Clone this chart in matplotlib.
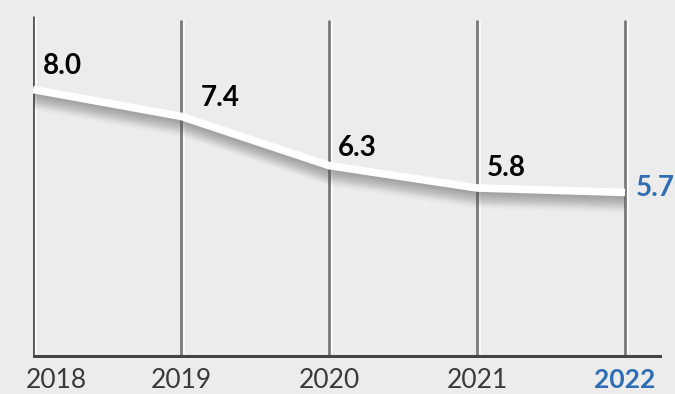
import matplotlib.pyplot as plt
import matplotlib.patheffects as pe

# datos del grafico
anios = [2018, 2019, 2020, 2021, 2022]
valores = [8.0, 7.4, 6.3, 5.8, 5.7]
etiquetas = ["8.0", "7.4", "6.3", "5.8", "5.7"]

fondo = "#ececec"
azul = "#2f6db5"

fig = plt.figure(figsize=(6.75, 3.94), dpi=100, facecolor=fondo)
ax = fig.add_axes([33 / 675, 1 - 358 / 394, (662 - 33) / 675, 358 / 394])
ax.set_facecolor(fondo)
ax.set_xlim(2018, 2022.25)
ax.set_ylim(2, 10)

# lineas verticales
for i, a in enumerate(anios):
    tope = 9.65 if i == 0 else 9.55
    ax.vlines(a + 0.012, 2, tope, color="white", lw=2.0, alpha=0.8, zorder=1)
    ax.vlines(a, 2, tope, color="#555555" if i == 0 else "#7a7a7a", lw=2.0, zorder=2)

# eje inferior
ax.axhline(2.05, color="#444444", lw=2.2, zorder=3)

# sombra difusa debajo de la linea
sombras = []
for k in range(1, 26):
    sombras.append(pe.SimpleLineShadow(offset=(0, -k * 0.5), shadow_color="#555555",
                                       alpha=0.07 * (1 - k / 27), rho=1.0))
ax.plot(anios, valores, color="white", lw=5.5, solid_capstyle="butt", solid_joinstyle="round",
        zorder=4, path_effects=sombras + [pe.Normal()])

# etiquetas de valores (desplazamiento en pixeles)
desplaz = [(10, 15), (20, 10), (9, 10), (10, 12), (11, -4)]
for i, (a, v) in enumerate(zip(anios, valores)):
    dx, dy = desplaz[i]
    ultimo = i == len(anios) - 1
    ax.annotate(etiquetas[i], (a, v), xytext=(dx * 0.72, dy * 0.72), textcoords="offset points",
                ha="left", va="baseline",
                fontsize=20, fontweight="bold", family="Lato",
                color=azul if ultimo else "black", zorder=5, annotation_clip=False)

# etiquetas de anios
for i, a in enumerate(anios):
    ultimo = i == len(anios) - 1
    ax.annotate(str(a), (a, 2), xytext=(-5 if i == 0 else 0, -7.5), textcoords="offset points",
                ha="left" if i == 0 else "center", va="top",
                fontsize=19, family="Lato", fontweight="bold" if ultimo else "normal",
                color=azul if ultimo else "#3a3a3a", annotation_clip=False)

for s in ax.spines.values():
    s.set_visible(False)
ax.set_xticks([])
ax.set_yticks([])

plt.savefig("out.png", dpi=100, facecolor=fondo)
